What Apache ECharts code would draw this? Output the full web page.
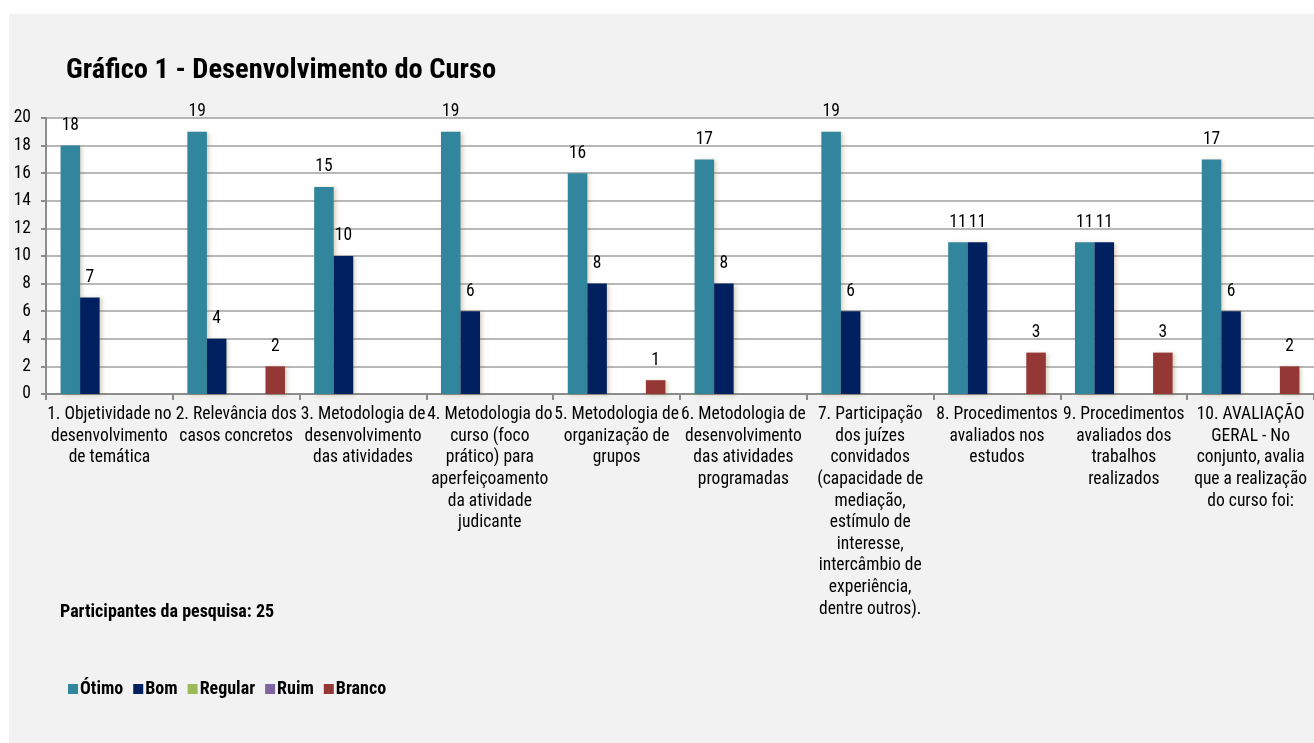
<!DOCTYPE html>
<html><head><meta charset="utf-8">
<script src="https://cdn.jsdelivr.net/npm/echarts@6/dist/echarts.min.js"></script>
<style>html,body{margin:0;padding:0;background:#fff}#c{width:1314px;height:743px}</style>
</head><body><div id="c"></div>
<script>
const categories = [
  "1. Objetividade no\ndesenvolvimento\nde temática",
  "2. Relevância dos\ncasos concretos",
  "3. Metodologia de\ndesenvolvimento\ndas atividades",
  "4. Metodologia do\ncurso (foco\nprático) para\naperfeiçoamento\nda atividade\njudicante",
  "5. Metodologia de\norganização de\ngrupos",
  "6. Metodologia de\ndesenvolvimento\ndas atividades\nprogramadas",
  "7. Participação\ndos juízes\nconvidados\n(capacidade de\nmediação,\nestímulo de\ninteresse,\nintercâmbio de\nexperiência,\ndentre outros).",
  "8. Procedimentos\navaliados nos\nestudos",
  "9. Procedimentos\navaliados dos\ntrabalhos\nrealizados",
  "10. AVALIAÇÃO\nGERAL - No\nconjunto, avalia\nque a realização\ndo curso foi:"
];
const otimo   = [18, 19, 15, 19, 16, 17, 19, 11, 11, 17];
const bom     = [7, 4, 10, 6, 8, 8, 6, 11, 11, 6];
const regular = [null, null, null, null, null, null, null, null, null, null];
const ruim    = [null, null, null, null, null, null, null, null, null, null];
const branco  = [null, 2, null, null, 1, null, null, 3, 3, 2];
const yTicks  = [0, 2, 4, 6, 8, 10, 12, 14, 16, 18, 20];

const FONT = '"Roboto Condensed", "Liberation Sans", Arial, sans-serif';
const chart = echarts.init(document.getElementById('c'), null, {renderer: 'canvas'});

function mk(name, data, color) {
  return {
    name, type: 'bar', data,
    barGap: '0%', barCategoryGap: '23%',
    itemStyle: { color, shadowColor: 'rgba(140,120,70,0.35)', shadowBlur: 4, shadowOffsetX: 2, shadowOffsetY: 1 },
    label: { show: true, position: 'top', distance: 11, color: '#000', fontFamily: FONT, fontSize: 17.5 }
  };
}

chart.setOption({
  animation: false,
  backgroundColor: '#ffffff',
  graphic: [
    { type: 'rect', z: -10, shape: { x: 9, y: 14, width: 1305, height: 729 }, style: { fill: '#f2f2f2' } },
    { type: 'text', left: 60, top: 603, style: { text: 'Participantes da pesquisa: 25', font: 'bold 18px ' + FONT, fill: '#000' } }
  ],
  title: {
    text: 'Gráfico 1 - Desenvolvimento do Curso',
    left: 61, top: 51,
    textStyle: { fontFamily: FONT, fontWeight: 'bold', fontSize: 28.5, color: '#000' }
  },
  legend: {
    left: 63, top: 675,
    itemWidth: 10, itemHeight: 10, itemGap: 10,
    icon: 'rect',
    textStyle: { fontFamily: FONT, fontWeight: 'bold', fontSize: 18, color: '#000', padding: [0, 0, 0, -3] },
    data: ['Ótimo', 'Bom', 'Regular', 'Ruim', 'Branco']
  },
  grid: { left: 46, right: 0, top: 118, bottom: 349, show: true, backgroundColor: '#ffffff', borderWidth: 0 },
  xAxis: {
    type: 'category', data: categories,
    axisLine: { lineStyle: { color: '#8c8c8c', width: 2 } },
    axisTick: { show: true, length: 6, lineStyle: { color: '#8c8c8c', width: 2 } },
    axisLabel: { interval: 0, margin: 10, lineHeight: 21.6, fontFamily: FONT, fontSize: 17.5, color: '#000', align: 'center' }
  },
  yAxis: {
    type: 'value', min: yTicks[0], max: yTicks[yTicks.length - 1], interval: 2,
    axisLine: { show: true, lineStyle: { color: '#8c8c8c', width: 2 } },
    axisTick: { show: true, length: 5, lineStyle: { color: '#8c8c8c', width: 2 } },
    axisLabel: { margin: 15, fontFamily: FONT, fontSize: 17.5, color: '#000' },
    splitLine: { lineStyle: { color: '#a0a0a0', width: 1.5 } }
  },
  series: [
    mk('Ótimo', otimo, '#31859c'),
    mk('Bom', bom, '#002060'),
    mk('Regular', regular, '#9bbb59'),
    mk('Ruim', ruim, '#8064a2'),
    mk('Branco', branco, '#953735')
  ]
});
</script></body></html>
